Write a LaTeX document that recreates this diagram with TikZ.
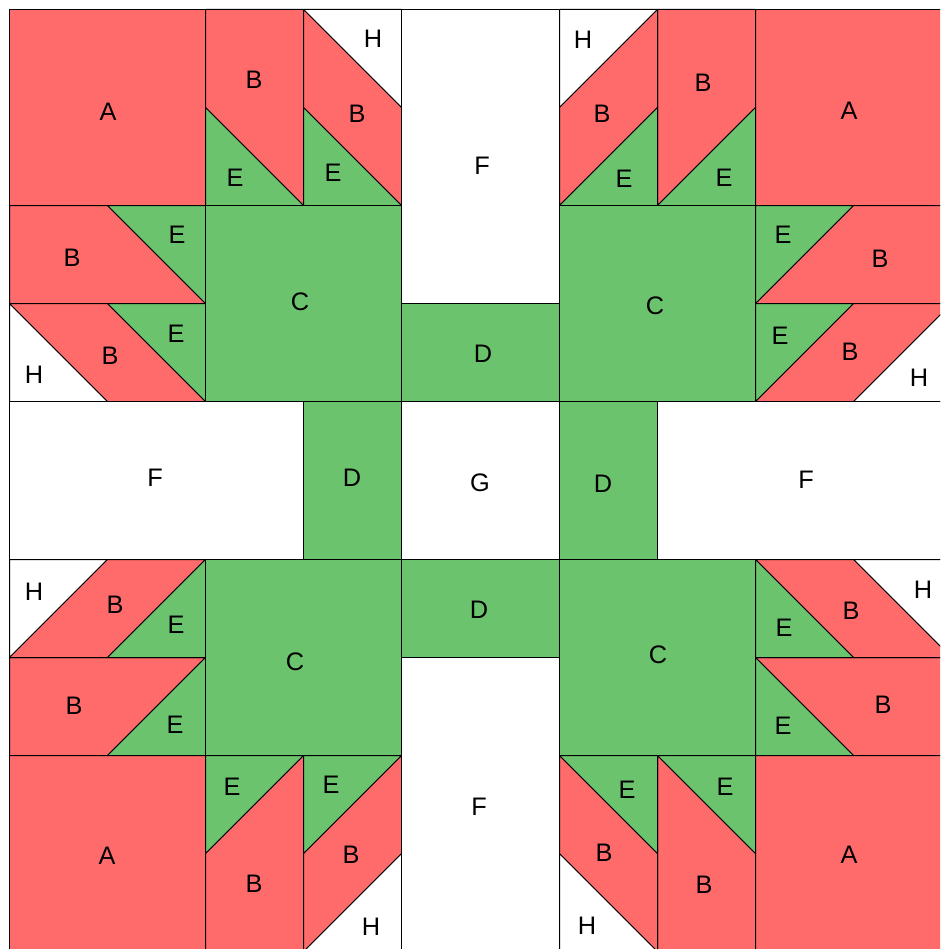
\documentclass[tikz,border=0pt]{standalone}
\usepackage{fontspec}
\setmainfont{Liberation Sans}
\definecolor{patch_red}{HTML}{FF6B6B}
\definecolor{patch_green}{HTML}{6BC46D}

\begin{document}
\begin{tikzpicture}[
    x=0.75pt, y=-0.75pt,
    patch/.style={draw=black, line width=0.75pt, line join=round},
    red_patch/.style={patch, fill=patch_red},
    green_patch/.style={patch, fill=patch_green},
    white_patch/.style={patch, fill=white},
    patch_label/.style={font=\fontsize{19}{20}\selectfont, text=black, inner sep=0pt}
]
\clip (0,0) rectangle (940,949);
\fill[white] (0,0) rectangle (940,949);

\begin{scope}[shift={(-0.5,-0.5)}]
% CORNER BLOCKS
\foreach \sx/\sy in {1/1, -1/1, 1/-1, -1/-1} {
\begin{scope}[shift={(481,481)}, xscale=\sx, yscale=\sy, shift={(-481,-481)}]
    \path[red_patch] (10,10) rectangle (206,206);
    \path[red_patch] (206,10) -- (304,10) -- (304,206) -- (206,108) -- cycle;
    \path[green_patch] (206,108) -- (304,206) -- (206,206) -- cycle;
    \path[white_patch] (304,10) -- (402,10) -- (402,108) -- cycle;
    \path[red_patch] (304,10) -- (402,108) -- (402,206) -- (304,108) -- cycle;
    \path[green_patch] (304,108) -- (402,206) -- (304,206) -- cycle;
    \path[red_patch] (10,206) -- (108,206) -- (206,304) -- (10,304) -- cycle;
    \path[green_patch] (108,206) -- (206,206) -- (206,304) -- cycle;
    \path[white_patch] (10,304) -- (108,402) -- (10,402) -- cycle;
    \path[red_patch] (10,304) -- (108,304) -- (206,402) -- (108,402) -- cycle;
    \path[green_patch] (108,304) -- (206,304) -- (206,402) -- cycle;
    \path[green_patch] (206,206) rectangle (402,402);
\end{scope}
}

% CENTRE CROSS
\path[white_patch] (402,402) rectangle (560,560);
\path[green_patch] (402,304) rectangle (560,402);
\path[green_patch] (402,560) rectangle (560,658);
\path[green_patch] (304,402) rectangle (402,560);
\path[green_patch] (560,402) rectangle (658,560);
\path[white_patch] (402,10) rectangle (560,304);
\path[white_patch] (402,658) rectangle (560,952);
\path[white_patch] (10,402) rectangle (304,560);
\path[white_patch] (658,402) rectangle (952,560);
\end{scope}

% LABELS TOP LEFT
\node[patch_label] (a_tl) at (108,112) {A};
\node[patch_label] (b_tl1) at (254,80) {B};
\node[patch_label] (h_tl1) at (373,39) {H};
\node[patch_label] (b_tl2) at (357,114) {B};
\node[patch_label] (e_tl1) at (235,178) {E};
\node[patch_label] (e_tl2) at (333,173) {E};
\node[patch_label] (e_tl3) at (177,235) {E};
\node[patch_label] (b_tl3) at (72,258) {B};
\node[patch_label] (c_tl) at (300,302) {C};
\node[patch_label] (e_tl4) at (176,334) {E};
\node[patch_label] (b_tl4) at (110,356) {B};
\node[patch_label] (h_tl2) at (34,375) {H};

% LABELS TOP RIGHT
\node[patch_label] (h_tr1) at (583,40) {H};
\node[patch_label] (b_tr1) at (602,114) {B};
\node[patch_label] (b_tr2) at (703,83) {B};
\node[patch_label] (a_tr) at (849,111) {A};
\node[patch_label] (e_tr1) at (624,179) {E};
\node[patch_label] (e_tr2) at (724,178) {E};
\node[patch_label] (e_tr3) at (783,235) {E};
\node[patch_label] (b_tr3) at (880,259) {B};
\node[patch_label] (c_tr) at (655,306) {C};
\node[patch_label] (e_tr4) at (780,336) {E};
\node[patch_label] (b_tr4) at (850,352) {B};
\node[patch_label] (h_tr2) at (919,378) {H};

% LABELS MIDDLE
\node[patch_label] (f_top) at (482,166) {F};
\node[patch_label] (d_top) at (483,354) {D};
\node[patch_label] (f_left) at (155,478) {F};
\node[patch_label] (d_left) at (352,478) {D};
\node[patch_label] (g_mid) at (480,483) {G};
\node[patch_label] (d_right) at (603,484) {D};
\node[patch_label] (f_right) at (806,480) {F};
\node[patch_label] (d_bot) at (479,610) {D};
\node[patch_label] (f_bot) at (479,807) {F};

% LABELS BOTTOM LEFT
\node[patch_label] (h_bl1) at (34,592) {H};
\node[patch_label] (b_bl1) at (115,605) {B};
\node[patch_label] (e_bl1) at (176,625) {E};
\node[patch_label] (c_bl) at (295,662) {C};
\node[patch_label] (b_bl2) at (74,706) {B};
\node[patch_label] (e_bl2) at (175,725) {E};
\node[patch_label] (e_bl3) at (232,787) {E};
\node[patch_label] (e_bl4) at (331,785) {E};
\node[patch_label] (b_bl3) at (351,855) {B};
\node[patch_label] (a_bl) at (107,856) {A};
\node[patch_label] (b_bl4) at (254,884) {B};
\node[patch_label] (h_bl2) at (371,927) {H};

% LABELS BOTTOM RIGHT
\node[patch_label] (h_br1) at (923,590) {H};
\node[patch_label] (b_br1) at (851,611) {B};
\node[patch_label] (e_br1) at (784,628) {E};
\node[patch_label] (c_br) at (658,655) {C};
\node[patch_label] (b_br2) at (883,705) {B};
\node[patch_label] (e_br2) at (783,726) {E};
\node[patch_label] (e_br3) at (627,790) {E};
\node[patch_label] (e_br4) at (725,787) {E};
\node[patch_label] (b_br3) at (604,853) {B};
\node[patch_label] (b_br4) at (704,885) {B};
\node[patch_label] (a_br) at (849,855) {A};
\node[patch_label] (h_br2) at (587,926) {H};

\end{tikzpicture}
\end{document}
